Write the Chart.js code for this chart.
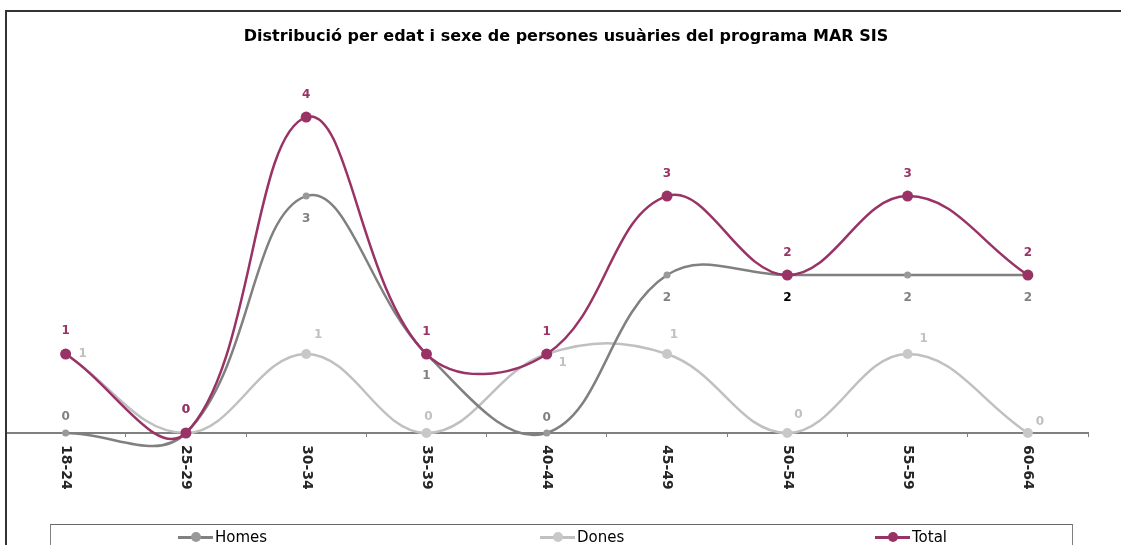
<!DOCTYPE html>
<html>
<head>
<meta charset="utf-8">
<script src="https://cdn.jsdelivr.net/npm/chart.js@4.4.0/dist/chart.umd.min.js"></script>
<style>
html, body { margin: 0; padding: 0; background: #fff; overflow: hidden; }
#wrap { position: relative; width: 1121px; height: 545px; }
#frame { position: absolute; left: 5px; top: 10px; right: 0; bottom: 0; border-left: 2px solid #333; border-top: 2px solid #333; pointer-events: none; }
#legend { position: absolute; left: 50px; top: 524px; width: 1021px; height: 40px; border: 1px solid #808080; border-top-color: #666; font: 15px "DejaVu Sans", sans-serif; }
.item { position: absolute; top: 3px; display: flex; align-items: center; color: #000; white-space: nowrap; }
.mark { position: relative; width: 35px; height: 3px; margin-right: 2px; }
.mark i { position: absolute; left: 13px; top: -3.5px; width: 10px; height: 10px; border-radius: 50%; }
</style>
</head>
<body>
<div id="wrap">
  <canvas id="chart" width="1121" height="545"></canvas>
  <div id="frame"></div>
  <div id="legend"></div>
</div>
<script>
var categories = ['18-24', '25-29', '30-34', '35-39', '40-44', '45-49', '50-54', '55-59', '60-64']
var homes = [0, 0, 3, 1, 0, 2, 2, 2, 2]
var dones = [1, 0, 1, 0, 1, 1, 0, 1, 0]
var total = [1, 0, 4, 1, 1, 3, 2, 3, 2]
var chartTitle = 'Distribució per edat i sexe de persones usuàries del programa MAR SIS'

// draws the value labels next to each point
var valueLabels = {
    id: 'valueLabels',
    afterDatasetsDraw: function (chart) {
        var ctx = chart.ctx
        ctx.save()
        ctx.font = 'bold 12px "DejaVu Sans"'
        ctx.textAlign = 'center'
        ctx.textBaseline = 'middle'
        chart.data.datasets.forEach(function (ds, d) {
            var meta = chart.getDatasetMeta(d)
            meta.data.forEach(function (pt, i) {
                var off = ds.labelOffsets[i]
                ctx.fillStyle = ds.labelColors ? ds.labelColors[i] : ds.labelColor
                ctx.fillText(String(ds.data[i]), pt.x + off[0], pt.y + off[1])
            })
        })
        ctx.restore()
    }
}

// title (a bit right of the plot centre, like the original) and
// category labels rotated clockwise, reading top to bottom
var textPlugin = {
    id: 'textPlugin',
    afterDraw: function (chart) {
        var ctx = chart.ctx
        var sx = chart.scales.x
        ctx.save()
        ctx.font = 'bold 16px "DejaVu Sans"'
        ctx.fillStyle = '#000'
        ctx.textAlign = 'center'
        ctx.textBaseline = 'middle'
        ctx.fillText(chartTitle, 566, 37)

        ctx.font = 'bold 14px "DejaVu Sans"'
        ctx.fillStyle = '#262626'
        ctx.textAlign = 'left'
        categories.forEach(function (c, i) {
            ctx.save()
            ctx.translate(sx.getPixelForValue(i), chart.chartArea.bottom + 12)
            ctx.rotate(Math.PI / 2)
            ctx.fillText(c, 0, 0)
            ctx.restore()
        })
        ctx.restore()
    }
}

var lineChartData = {
    labels: categories,
    datasets: [{
            label: 'Homes',
            data: homes,
            borderColor: '#808080',
            backgroundColor: '#999999',
            pointBackgroundColor: '#999999',
            pointBorderWidth: 0,
            pointRadius: 3.5,
            order: 1,
            labelColor: '#808080',
            labelColors: ['#808080', '#808080', '#808080', '#808080', '#808080', '#808080', '#000000', '#808080', '#808080'],
            labelOffsets: [[0, -16], [0, -23], [0, 23], [0, 22], [0, -15], [0, 23], [0, 23], [0, 23], [0, 23]]
        },
        {
            label: 'Dones',
            data: dones,
            borderColor: '#c0c0c0',
            backgroundColor: '#c8c8c8',
            pointBackgroundColor: '#c8c8c8',
            pointBorderWidth: 0,
            pointRadius: 5,
            order: 2,
            labelColor: '#c0c0c0',
            labelOffsets: [[17, 0], [0, -23], [12, -19], [2, -16], [16, 9], [7, -19], [11, -18], [16, -15], [12, -11]]
        },
        {
            label: 'Total',
            data: total,
            borderColor: '#993366',
            backgroundColor: '#993366',
            pointBackgroundColor: '#993366',
            pointBorderWidth: 0,
            pointRadius: 5.5,
            order: 0,
            labelColor: '#993366',
            labelOffsets: [[0, -23], [0, -23], [0, -22], [0, -22], [0, -22], [0, -22], [0, -22], [0, -22], [0, -22]]
        }
    ]
}

var lineChartOptions = {
    responsive: false,
    animation: false,
    devicePixelRatio: 1,
    layout: { padding: { left: 5, right: 33, top: 65, bottom: 0 } },
    elements: {
        line: { tension: 0.4, borderWidth: 2.5, capBezierPoints: false, fill: false },
        point: { hoverRadius: 5 }
    },
    datasets: { line: { clip: false } },
    plugins: {
        legend: { display: false },
        tooltip: { enabled: false },
        title: { display: false }
    },
    scales: {
        x: {
            offset: true,
            ticks: { display: false },
            grid: { display: true, offset: true, drawOnChartArea: false, drawTicks: true, tickLength: 4, color: '#808080', lineWidth: 1 },
            border: { display: true, color: '#808080', width: 2 },
            afterFit: function (scale) { scale.height = 112 }
        },
        y: {
            display: false,
            min: 0,
            max: 4.66
        }
    }
}

var chart = new Chart(document.getElementById('chart').getContext('2d'), {
    type: 'line',
    data: lineChartData,
    options: lineChartOptions,
    plugins: [valueLabels, textPlugin]
})

// legend boxes, spread like the original
var legendX = [127, 489, 824]
var legend = document.getElementById('legend')
chart.data.datasets.forEach(function (ds, i) {
    var item = document.createElement('div')
    item.className = 'item'
    item.style.left = legendX[i] + 'px'
    item.innerHTML = '<span class="mark" style="background:' + ds.borderColor + '"><i style="background:' +
        ds.pointBackgroundColor + '"></i></span><span>' + ds.label + '</span>'
    legend.appendChild(item)
})
</script>
</body>
</html>
